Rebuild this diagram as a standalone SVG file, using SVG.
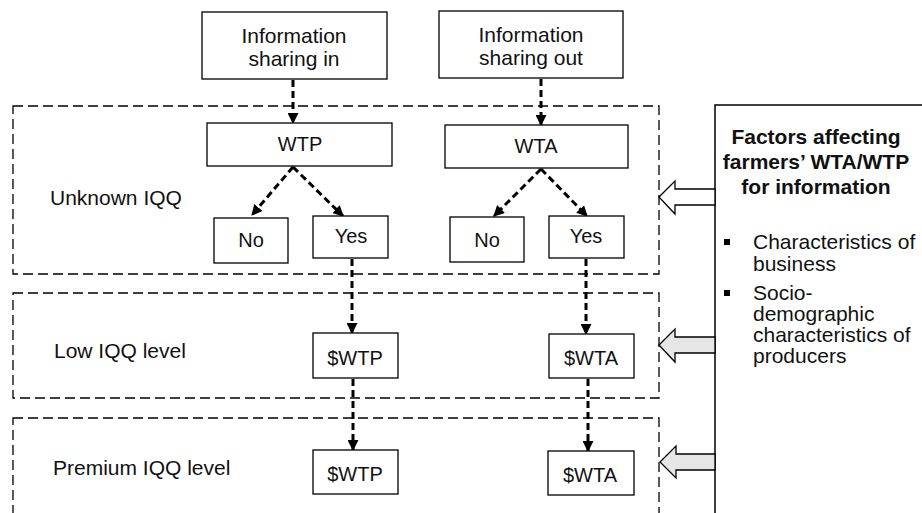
<svg xmlns="http://www.w3.org/2000/svg" width="922" height="513" viewBox="0 0 922 513">
<style>
.bg{fill:#ffffff}
.box{fill:#ffffff;stroke:#000;stroke-width:1.3}
.zone{fill:none;stroke:#000;stroke-width:1.3;stroke-dasharray:10 5}
.con{fill:none;stroke:#000;stroke-width:3;stroke-dasharray:7 4}
.t{font-family:"Liberation Sans",Arial,sans-serif;font-size:21px;fill:#111}
.s{font-size:20px}
.c{text-anchor:middle}
.b{font-weight:bold}
.blk{stroke:#000;stroke-width:1.3}
</style>
<defs>
<marker id="ah" viewBox="0 0 10 10" refX="9" refY="5" markerWidth="11" markerHeight="11" markerUnits="userSpaceOnUse" orient="auto">
<path d="M0,0 L10,5 L0,10 z" fill="#000"/>
</marker>
</defs>
<rect class="bg" x="0" y="0" width="922" height="513"/>
<g id="zones">
<rect id="zone-unknown" class="zone" x="13" y="106" width="646" height="168"/>
<rect id="zone-low" class="zone" x="13" y="293" width="646" height="105"/>
<rect id="zone-premium" class="zone" x="13" y="418" width="646" height="130"/>
<text class="t" x="50" y="205">Unknown IQQ</text>
<text class="t" x="54" y="358">Low IQQ level</text>
<text class="t" x="53" y="475">Premium IQQ level</text>
</g>
<g id="connectors">
<line class="con" x1="293" y1="80" x2="293" y2="123" marker-end="url(#ah)"/>
<line class="con" x1="541" y1="79" x2="541" y2="125" marker-end="url(#ah)"/>
<line class="con" x1="293" y1="167" x2="252" y2="215" marker-end="url(#ah)"/>
<line class="con" x1="293" y1="167" x2="343" y2="216" marker-end="url(#ah)"/>
<line class="con" x1="541" y1="169" x2="494" y2="216" marker-end="url(#ah)"/>
<line class="con" x1="541" y1="169" x2="587" y2="216" marker-end="url(#ah)"/>
<line class="con" x1="352" y1="259" x2="352" y2="333" marker-end="url(#ah)"/>
<line class="con" x1="353" y1="379" x2="353" y2="450" marker-end="url(#ah)"/>
<line class="con" x1="586" y1="259" x2="586" y2="334" marker-end="url(#ah)"/>
<line class="con" x1="588" y1="379" x2="588" y2="451" marker-end="url(#ah)"/>
</g>
<g id="n-share-in">
<rect class="box" x="202" y="12" width="185" height="67"/>
<text class="t c" x="294" y="43">Information</text>
<text class="t c" x="294" y="66">sharing in</text>
</g>
<g id="n-share-out">
<rect class="box" x="439" y="11" width="184" height="67"/>
<text class="t c" x="531" y="42">Information</text>
<text class="t c" x="531" y="65">sharing out</text>
</g>
<g id="n-wtp">
<rect class="box" x="207" y="123" width="185" height="43"/>
<text class="t s c" x="300" y="151">WTP</text>
</g>
<g id="n-wta">
<rect class="box" x="445" y="125" width="183" height="43"/>
<text class="t s c" x="536" y="153">WTA</text>
</g>
<g id="n-no1">
<rect class="box" x="214" y="218" width="74" height="45"/>
<text class="t s c" x="251" y="247">No</text>
</g>
<g id="n-yes1">
<rect class="box" x="313" y="216" width="75" height="42"/>
<text class="t s c" x="351" y="243">Yes</text>
</g>
<g id="n-no2">
<rect class="box" x="450" y="217" width="74" height="45"/>
<text class="t s c" x="487" y="247">No</text>
</g>
<g id="n-yes2">
<rect class="box" x="549" y="216" width="75" height="42"/>
<text class="t s c" x="586" y="243">Yes</text>
</g>
<g id="n-wtp-low">
<rect class="box" x="313" y="333" width="85" height="45"/>
<text class="t s c" x="355" y="365">$WTP</text>
</g>
<g id="n-wta-low">
<rect class="box" x="549" y="334" width="85" height="44"/>
<text class="t s c" x="591" y="365">$WTA</text>
</g>
<g id="n-wtp-prem">
<rect class="box" x="313" y="450" width="85" height="44"/>
<text class="t s c" x="355" y="481">$WTP</text>
</g>
<g id="n-wta-prem">
<rect class="box" x="548" y="451" width="86" height="44"/>
<text class="t s c" x="590" y="482">$WTA</text>
</g>
<g id="n-factors">
<rect x="715" y="105" width="230" height="430" fill="#fff" stroke="#000" stroke-width="1.5"/>
<text class="t c b" x="816" y="144">Factors affecting</text>
<text class="t c b" x="816" y="169">farmers’ WTA/WTP</text>
<text class="t c b" x="816" y="194">for information</text>
<rect x="724" y="239" width="6" height="6" fill="#000"/>
<text class="t" x="753" y="249">Characteristics of</text>
<text class="t" x="753" y="271">business</text>
<rect x="724" y="290" width="6" height="6" fill="#000"/>
<text class="t" x="753" y="300">Socio-</text>
<text class="t" x="753" y="321">demographic</text>
<text class="t" x="753" y="342">characteristics of</text>
<text class="t" x="753" y="363">producers</text>
</g>
<g id="block-arrows">
<polygon class="blk" fill="#ffffff" points="659,197 675,181 675,189 715,189 715,205 675,205 675,214"/>
<polygon class="blk" fill="#e6e6e6" points="659,345 675,329 675,337 715,337 715,353 675,353 675,362"/>
<polygon class="blk" fill="#e6e6e6" points="660,462 676,446 676,454 715,454 715,470 676,470 676,478"/>
</g>
</svg>
